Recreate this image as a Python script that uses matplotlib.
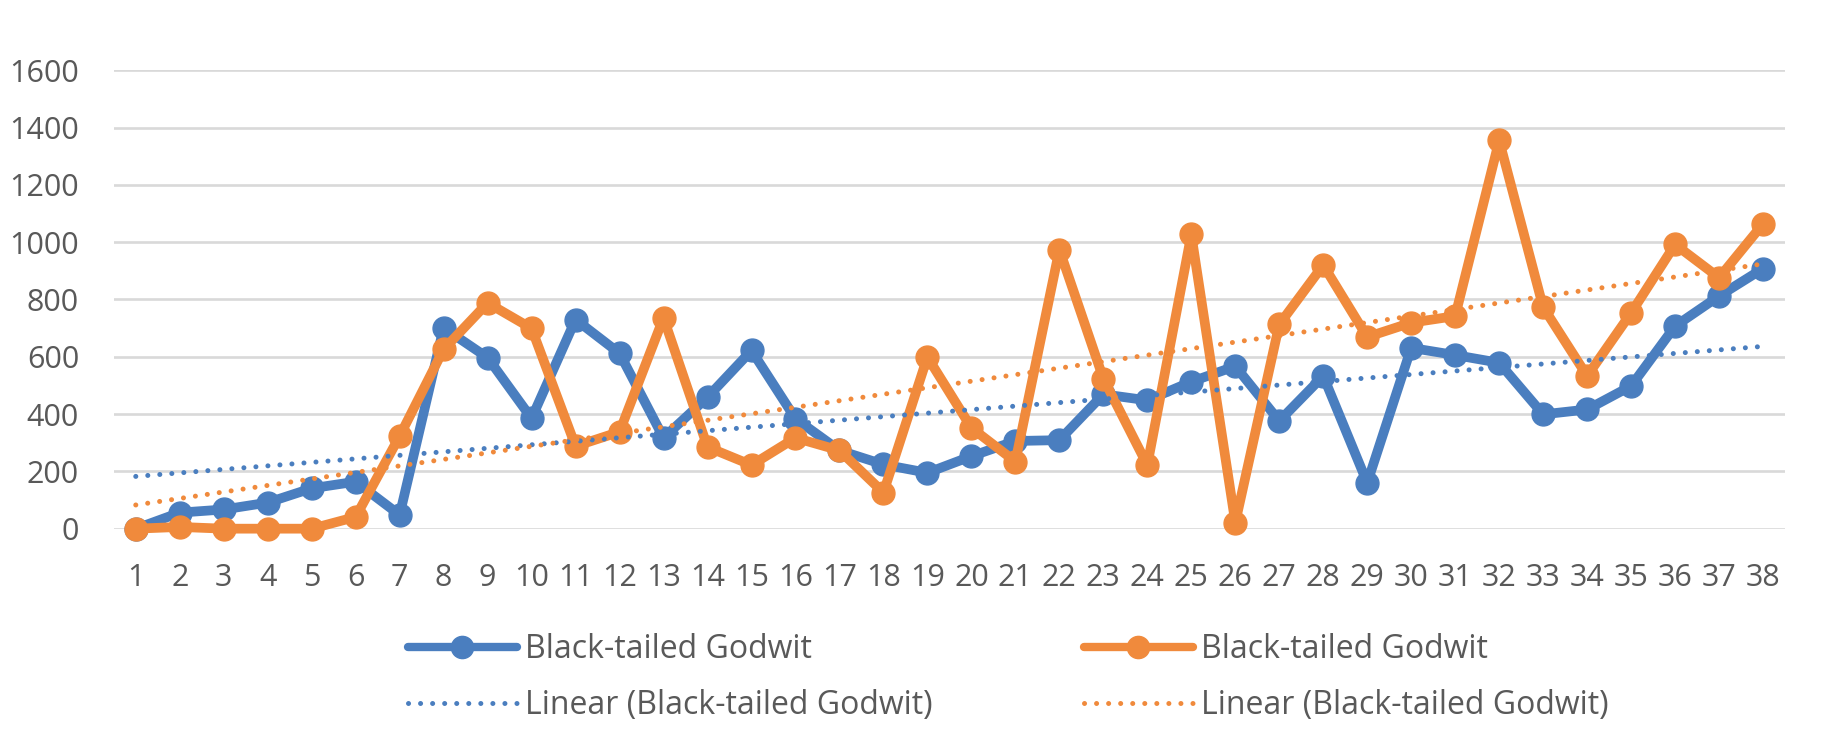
import numpy as np
import matplotlib
matplotlib.use("Agg")
import matplotlib.pyplot as plt
from matplotlib.lines import Line2D

plt.rcParams["font.family"] = ["Open Sans", "DejaVu Sans"]

# ---- data ----
days = list(range(1, 39))
godwit_a = [0, 56, 67, 91, 141, 164, 48, 701, 597, 385, 730, 612, 317, 459, 622,
            384, 273, 224, 195, 253, 306, 309, 469, 448, 513, 567, 376, 533, 160,
            631, 606, 579, 399, 416, 498, 707, 812, 908]
godwit_b = [0, 6, 0, 0, 0, 41, 323, 626, 788, 699, 288, 338, 736, 285, 222, 317,
            273, 126, 599, 352, 234, 974, 524, 222, 1027, 21, 713, 920, 669, 719,
            742, 1355, 773, 533, 753, 992, 876, 1064]
yticks = [0, 200, 400, 600, 800, 1000, 1200, 1400, 1600]
series_label = "Black-tailed Godwit"
trend_label = "Linear (Black-tailed Godwit)"

BLUE = "#4a7ebf"
ORANGE = "#f08a3c"
TEXT = "#595959"
GRID = "#d9d9d9"

fig = plt.figure(figsize=(18.38, 7.29), dpi=100)
ax = fig.add_axes([0.0619, 0.2748, 0.9093, 0.6288])

x = np.array(days)
dot = (0, (0.01, 2.4))

for ys, col in [(godwit_a, BLUE), (godwit_b, ORANGE)]:
    ax.plot(x, ys, color=col, lw=7, marker="o", ms=16.5,
            solid_joinstyle="round", clip_on=False, zorder=3)

# linear trendlines like Excel's
for ys, col in [(godwit_a, BLUE), (godwit_b, ORANGE)]:
    k, b = np.polyfit(x, ys, 1)
    ax.plot(x, k * x + b, color=col, lw=3.6, linestyle=dot,
            dash_capstyle="round", zorder=4)

ax.set_xlim(0.5, 38.5)
ax.set_ylim(0, 1600)
ax.set_xticks(days)
ax.set_yticks(yticks)
ax.tick_params(length=0, labelsize=22, labelcolor=TEXT, pad=25)
ax.grid(axis="y", color=GRID, lw=1.9)
ax.set_axisbelow(True)
for s in ax.spines.values():
    s.set_visible(False)

# ---- legend: two columns placed by hand ----
def handles(col):
    return [Line2D([], [], color=col, lw=6, marker="o", ms=16,
                   solid_capstyle="round"),
            Line2D([], [], color=col, lw=3.6, linestyle=dot,
                   dash_capstyle="round")]

for col, xpos in [(BLUE, 408 / 1838), (ORANGE, 1084 / 1838)]:
    fig.legend(handles(col), [series_label, trend_label], loc="center left",
               bbox_to_anchor=(xpos, 0.070), frameon=False, fontsize=23,
               labelcolor=TEXT, handlelength=3.4, handletextpad=0.25,
               labelspacing=0.72, borderpad=0, borderaxespad=0)

plt.savefig("out.png", dpi=100)
plt.close()
